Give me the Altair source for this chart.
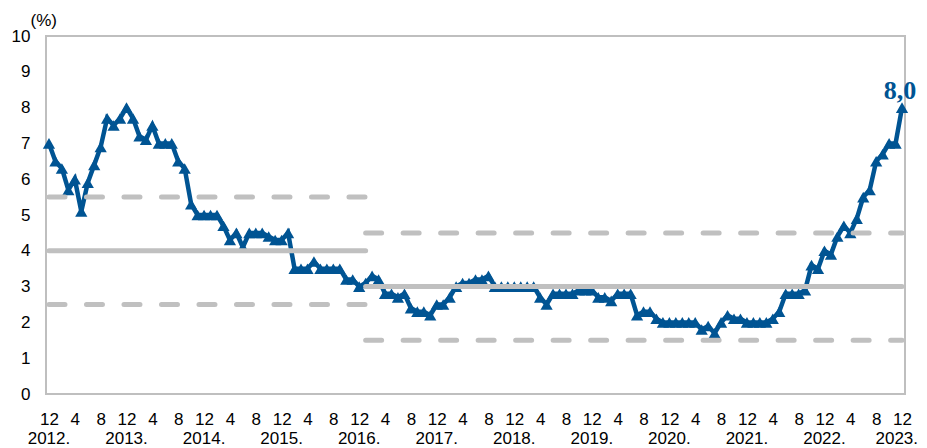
import altair as alt
import pandas as pd

# Monthly values, Dec 2012 .. Dec 2023 (index 0 = Dec 2012)
values = [
    7.0, 6.5, 6.3, 5.7, 6.0, 5.1, 5.9, 6.4, 6.9, 7.7, 7.5, 7.7,
    8.0, 7.7, 7.2, 7.1, 7.5, 7.0, 7.0, 7.0, 6.5, 6.3, 5.3, 5.0,
    5.0, 5.0, 5.0, 4.7, 4.3, 4.5, 4.1, 4.5, 4.5, 4.5, 4.4, 4.3,
    4.3, 4.5, 3.5, 3.5, 3.5, 3.7, 3.5, 3.5, 3.5, 3.5, 3.2, 3.2,
    3.0, 3.1, 3.3, 3.2, 2.8, 2.8, 2.7, 2.8, 2.4, 2.3, 2.3, 2.2,
    2.5, 2.5, 2.7, 3.0, 3.1, 3.1, 3.2, 3.2, 3.3, 3.0, 3.0, 3.0,
    3.0, 3.0, 3.0, 3.0, 2.7, 2.5, 2.8, 2.8, 2.8, 2.8, 2.9, 2.9,
    2.9, 2.7, 2.7, 2.6, 2.8, 2.8, 2.8, 2.2, 2.3, 2.3, 2.1, 2.0,
    2.0, 2.0, 2.0, 2.0, 2.0, 1.8, 1.9, 1.7, 2.0, 2.2, 2.1, 2.1,
    2.0, 2.0, 2.0, 2.0, 2.1, 2.3, 2.8, 2.8, 2.8, 2.9, 3.6, 3.5,
    4.0, 3.9, 4.4, 4.7, 4.5, 4.9, 5.5, 5.7, 6.5, 6.7, 7.0, 7.0,
    8.0,
]
month_index = list(range(len(values)))

# Year labels under each December tick
year_ticks = [0, 12, 24, 36, 48, 60, 72, 84, 96, 108, 120, 132]
year_labels = ["2012.", "2013.", "2014.", "2015.", "2016.", "2017.",
               "2018.", "2019.", "2020.", "2021.", "2022.", "2023."]

# Target bands (in month-index units)
band_start = [0, 49]
band_end = [49, 132]
band_target = [4.0, 3.0]
band_lower = [2.5, 1.5]
band_upper = [5.5, 4.5]

tick_values = list(range(0, 133, 4))
y_ticks = list(range(0, 11))

BLUE = "#005493"
GRAY = "#C0C0C0"

df = pd.DataFrame({"m": month_index, "v": values})
df["label"] = ""
df.loc[df.index[-1], "label"] = f"{values[-1]:.1f}".replace(".", ",")

years = pd.DataFrame({"ym": year_ticks, "yl": year_labels})
years["last"] = years["ym"] == year_ticks[-1]

bands = pd.DataFrame({
    "x": band_start, "x2": band_end,
    "t": band_target, "lo": band_lower, "hi": band_upper,
})

xscale = alt.Scale(domain=[-0.46, 132.46], nice=False, zero=False)
yscale = alt.Scale(domain=[0, 10], nice=False)

x_axis = alt.Axis(
    values=tick_values,
    labelExpr="datum.value % 12 == 0 ? '12' : toString(datum.value % 12)",
    labelPadding=17, labelBaseline="top", title=None,
)
y_axis = alt.Axis(
    values=y_ticks, labelPadding=16,
    title="(%)", titleAngle=0, titleX=-16, titleY=-16, titleAlign="left",
    titleBaseline="middle", titleFont="Liberation Sans", titleFontSize=17,
    titleFontWeight="normal", titleColor="#000000",
)

X = alt.X("m:Q", scale=xscale, axis=x_axis)
Y = alt.Y("v:Q", scale=yscale, axis=y_axis)

base = alt.Chart(df)

line = base.mark_line(color=BLUE, strokeWidth=4.5).encode(x=X, y=Y)
points = base.mark_point(
    shape="triangle-up", filled=True, size=150, color=BLUE, opacity=1
).encode(x=X, y=Y)

label = base.mark_text(
    font="Liberation Serif", fontWeight="bold", fontSize=26, color=BLUE,
    dy=-9, dx=-2, baseline="alphabetic", align="center",
).encode(x=X, y=Y, text="label:N")

bchart = alt.Chart(bands)
BX = alt.X("x:Q", scale=xscale, axis=x_axis)
target = bchart.mark_rule(color=GRAY, strokeWidth=5, strokeCap="round").encode(
    x=BX, x2="x2:Q", y=alt.Y("t:Q", scale=yscale, axis=y_axis)
)
lower = bchart.mark_rule(
    color=GRAY, strokeWidth=5, strokeCap="round", strokeDash=[16, 21.5]
).encode(x=BX, x2="x2:Q", y=alt.Y("lo:Q", scale=yscale, axis=y_axis))
upper = bchart.mark_rule(
    color=GRAY, strokeWidth=5, strokeCap="round", strokeDash=[16, 21.5]
).encode(x=BX, x2="x2:Q", y=alt.Y("hi:Q", scale=yscale, axis=y_axis))

ychart = alt.Chart(years)
YX = alt.X("ym:Q", scale=xscale, axis=x_axis)
Y0 = alt.YDatum(0, scale=yscale, axis=y_axis)
year_text = ychart.transform_filter("!datum.last").mark_text(
    font="Liberation Sans", fontSize=17, color="#000000",
    align="center", baseline="middle", dy=45,
).encode(x=YX, y=Y0, text="yl:N")
year_last = ychart.transform_filter("datum.last").mark_text(
    font="Liberation Sans", fontSize=17, color="#000000",
    align="right", baseline="middle", dy=45, dx=16,
).encode(x=YX, y=Y0, text="yl:N")

chart = alt.layer(
    line, points, target, lower, upper, label, year_text, year_last
).properties(
    width=859, height=358,
    autosize=alt.AutoSizeParams(type="none"),
    padding={"left": 38, "top": 28, "right": 14, "bottom": 54},
).configure_view(
    stroke="#BFBFBF", strokeWidth=2
).configure_axis(
    ticks=False, domain=False, grid=False,
    labelFont="Liberation Sans", labelFontSize=17, labelColor="#000000",
    labelOverlap=False, labelFlush=False, labelBound=False, labelAngle=0,
)

chart.save("out.html", embed_options={"renderer": "svg", "actions": False})
